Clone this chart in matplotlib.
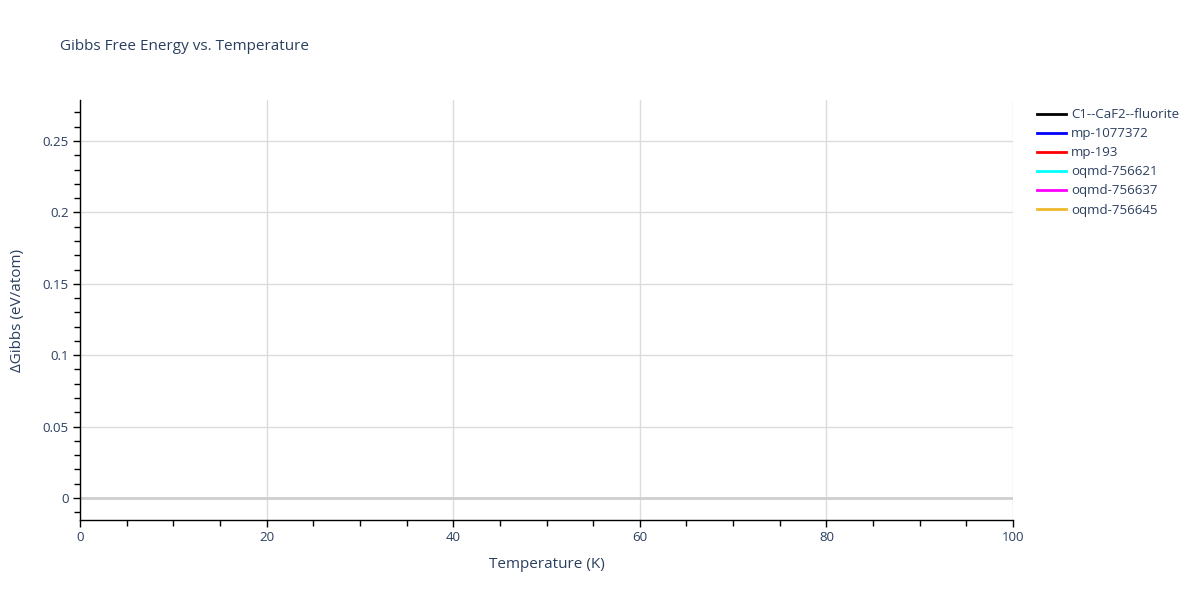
import matplotlib
matplotlib.use("Agg")
import matplotlib.pyplot as plt
from matplotlib.ticker import MultipleLocator

# series shown in the legend; no points fall inside the visible window
names   = ["C1--CaF2--fluorite", "mp-1077372", "mp-193",
           "oqmd-756621", "oqmd-756637", "oqmd-756645"]
colors  = ["black", "blue", "red", "cyan", "magenta", "#f0b82d"]
temps   = [[], [], [], [], [], []]
dgibbs  = [[], [], [], [], [], []]

x_range = (0, 100)
y_range = (-0.0154, 0.2787)

TXT = "#2a3f5f"
plt.rcParams["font.family"] = ["Open Sans", "DejaVu Sans"]

fig = plt.figure(figsize=(12, 6), dpi=100)
ax = fig.add_axes([80/1200, 80/600, 933/1200, 420/600])

ax.grid(True, color="#dcdcdc", lw=1)
ax.set_axisbelow(True)
ax.axhline(0, color="#cfcfcf", lw=2, zorder=1)

for name, col, t, g in zip(names, colors, temps, dgibbs):
    ax.plot(t, g, color=col, lw=2, label=name)

ax.set_xlim(*x_range)
ax.set_ylim(*y_range)
ax.xaxis.set_major_locator(MultipleLocator(20))
ax.xaxis.set_minor_locator(MultipleLocator(5))
ax.yaxis.set_major_locator(MultipleLocator(0.05))
ax.yaxis.set_minor_locator(MultipleLocator(0.01))
ax.yaxis.set_major_formatter(plt.FuncFormatter(lambda v, p: f"{v:g}" if abs(v) > 1e-9 else "0"))

for s in ["top", "right"]:
    ax.spines[s].set_visible(False)
for s in ["left", "bottom"]:
    ax.spines[s].set_color("black")
    ax.spines[s].set_linewidth(1)

ax.tick_params(which="both", direction="out", color="black", labelcolor=TXT,
               labelsize=9.5, width=1)
ax.tick_params(which="major", length=5, pad=3)
ax.tick_params(which="minor", length=4)

ax.set_xlabel("Temperature (K)", fontsize=11, color=TXT, labelpad=9)
ax.set_ylabel("ΔGibbs (eV/atom)", fontsize=11, color=TXT, labelpad=13)

fig.text(60/1200, 1 - 47/600, "Gibbs Free Energy vs. Temperature",
         fontsize=11, color=TXT, va="center", ha="left")

leg = ax.legend(loc="upper left", bbox_to_anchor=(1.02, 0.993), frameon=False,
                fontsize=9.5, handlelength=2.2, handletextpad=0.4,
                labelspacing=0.46, borderaxespad=0)
for t in leg.get_texts():
    t.set_color(TXT)

fig.savefig("out.png", dpi=100)
